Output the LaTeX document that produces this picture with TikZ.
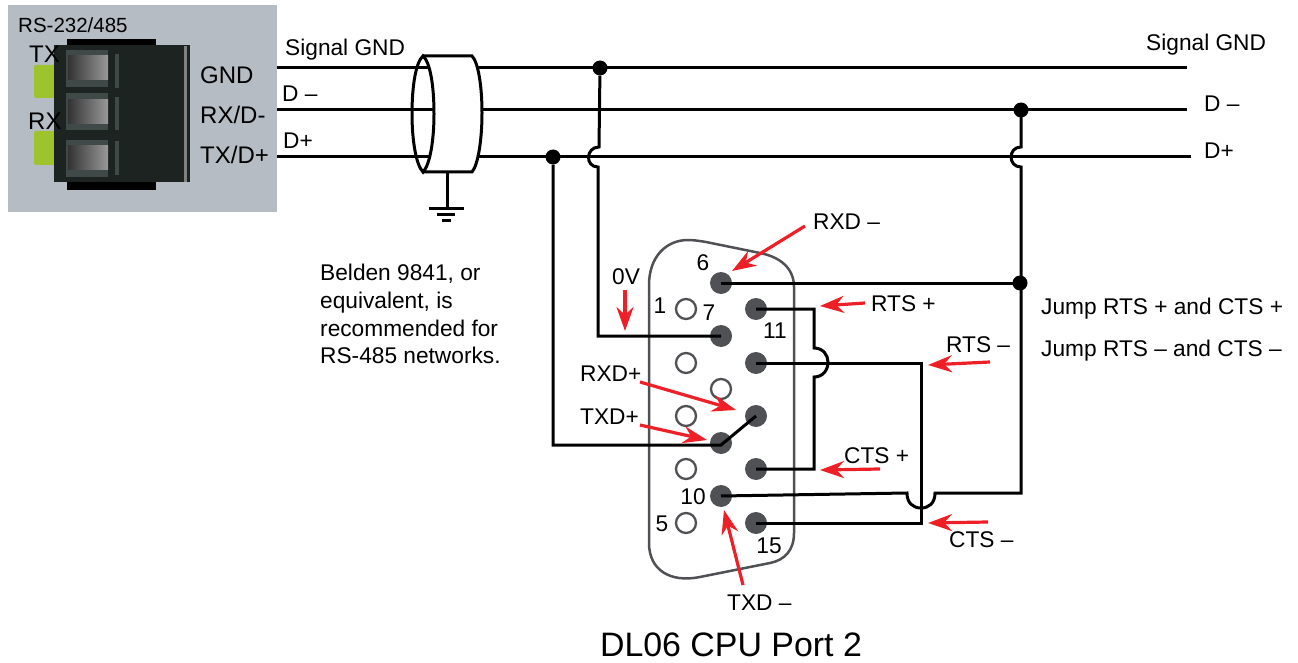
\documentclass[tikz,border=0pt]{standalone}
\usepackage{fontspec}
\setmainfont{Liberation Sans}
\usetikzlibrary{arrows.meta}
\definecolor{panelgray}{RGB}{182, 188, 195}
\definecolor{blockdark}{RGB}{29, 35, 33}
\definecolor{slotgray}{RGB}{63, 74, 72}
\definecolor{ledgreen}{RGB}{157, 195, 47}
\definecolor{pingray}{RGB}{80, 81, 84}
\definecolor{arrowred}{RGB}{238, 32, 39}

\begin{document}
\begin{tikzpicture}[
    x=1pt, y=-1pt,
    label/.style={inner sep=0pt, font=\fontsize{22.7}{27}\selectfont},
    big/.style={inner sep=0pt, font=\fontsize{24}{28}\selectfont},
    pin/.style={circle, inner sep=0pt, minimum size=22pt, fill=pingray},
    openpin/.style={circle, inner sep=0pt, minimum size=20pt, draw=pingray, line width=2.3pt, fill=white},
    dot/.style={circle, inner sep=0pt, minimum size=15pt, fill=black},
    wire/.style={line width=3pt, line join=miter},
    shell/.style={line width=2.5pt, draw=pingray},
    redarrow/.style={-{Stealth[length=24pt, width=17pt]}, line width=3.2pt, color=arrowred}
]
\useasboundingbox (0,0) rectangle (1298,663);

% Terminal block
\fill[panelgray] (8,5) rectangle (277,212);
\fill[ledgreen, rounded corners=2pt] (34,65) rectangle (56,98);
\fill[ledgreen, rounded corners=2pt] (34,131) rectangle (56,165);
\fill[black] (67,39) rectangle (156,190);
\fill[blockdark] (54,45) rectangle (190,182);
\fill[gray] (184,46) rectangle (187,182);
\fill[slotgray] (66,50) rectangle (108,87);
\fill[slotgray] (66,93) rectangle (108,130);
\fill[slotgray] (66,140) rectangle (108,177);
\shade[left color=black!80, right color=black!40] (68,56) rectangle (108,80);
\shade[left color=black!80, right color=black!40] (68,100) rectangle (108,124);
\shade[left color=black!80, right color=black!40] (68,146) rectangle (108,170);
\fill[slotgray] (115,54) rectangle (119,88);
\fill[slotgray] (115,97) rectangle (119,130);
\fill[slotgray] (115,141) rectangle (119,175);

% Terminal labels
\node[label, font=\fontsize{20.5}{24}\selectfont, anchor=west] (rslabel) at (18,25) {RS-232/485};
\node[big, anchor=west] (txled) at (29,54) {TX};
\node[big, anchor=west] (rxled) at (28,121) {RX};
\node[big, anchor=west] (gndterm) at (200,75) {GND};
\node[big, anchor=west] (rxterm) at (200,115) {RX/D-};
\node[big, anchor=west] (txterm) at (200,155) {TX/D+};

% Connector shell
\draw[shell] (649,543) -- (649,285) .. controls (649,257) and (666,240) .. (688,240)
    .. controls (694,240) and (700,241) .. (706,242) -- (760,253)
    .. controls (780,257) and (794,268) .. (794,287) -- (794,533)
    .. controls (794,550) and (785,560) .. (770,563) -- (700,577)
    .. controls (670,583) and (649,570) .. (649,543) -- cycle;

% Pins
\node[pin] (pin6) at (721,283) {};
\node[pin] (pin7) at (721,336) {};
\node[pin] (pin8) at (721,443) {};
\node[pin] (pin10) at (721,496) {};
\node[pin] (pin11) at (756,309) {};
\node[pin] (pin12) at (756,363) {};
\node[pin] (pin13) at (756,416) {};
\node[pin] (pin14) at (756,469) {};
\node[pin] (pin15) at (756,523) {};
\node[openpin] (pin1) at (686,309) {};
\node[openpin] (pin2) at (686,363) {};
\node[openpin] (pin3) at (686,416) {};
\node[openpin] (pin4) at (686,469) {};
\node[openpin] (pin5) at (686,523) {};
\node[openpin] (pin9) at (721,389) {};

% Pin numbers
\node[label] (num1) at (660,306) {1};
\node[label] (num5) at (662,524) {5};
\node[label] (num6) at (703,263) {6};
\node[label] (num7) at (709,313) {7};
\node[label] (num10) at (693,497) {10};
\node[label] (num11) at (775,331) {11};
\node[label] (num15) at (769,546) {15};

% Bus lines
\coordinate (gndstart) at (277,68);
\coordinate (gndend) at (1187,68);
\coordinate (dminusstart) at (277,110);
\coordinate (dminusend) at (1187,110);
\coordinate (dplusstart) at (277,157);
\coordinate (dplusend) at (1191,157);
\draw[wire] (gndstart) -- (gndend);
\draw[wire] (dminusstart) -- (dminusend);
\draw[wire] (dplusstart) -- (dplusend);

% Cable shield
\fill[white] (423,56) -- (472,56) .. controls (478,62) and (482,85) .. (482,113)
    .. controls (482,140) and (478,165) .. (472,172) -- (423,172)
    .. controls (430,165) and (434,140) .. (434,114) .. controls (434,85) and (430,62) .. (423,56) -- cycle;
\draw[wire] (423,56) -- (472,56) .. controls (478,62) and (482,85) .. (482,113)
    .. controls (482,140) and (478,165) .. (472,172) -- (423,172);
\draw[wire] (423,56) .. controls (430,62) and (434,85) .. (434,114) .. controls (434,140) and (430,165) .. (423,172)
    .. controls (416,165) and (412,140) .. (412,114) .. controls (412,85) and (416,62) .. (423,56) -- cycle;

% Ground symbol
\coordinate (shieldbase) at (447,172);
\coordinate (groundtop) at (447,209);
\draw[wire] (shieldbase) -- (groundtop);
\draw[wire] (429,209) -- (464,209);
\draw[wire] (437,215) -- (455,215);
\draw[wire] (442,221) -- (451,221);

% Junctions
\node[dot] (gnddot) at (600,68) {};
\node[dot] (dplusdot) at (553,157) {};
\node[dot] (dminusdot) at (1021,110) {};
\node[dot] (pin6dot) at (1020,283) {};

% Wiring to the port
\draw[wire] (gnddot) -- (599,147) to[out=180, in=180, looseness=1.7] (598,167) -- (598,336) -- (pin7.center);
\draw[wire] (dplusdot) -- (553,445) -- (721,445) -- (pin13.center);
\draw[wire] (dminusdot.center) -- (1021,147) to[out=180, in=180, looseness=1.7] (1021,167) -- (1021,283) -- (1021,493)
    -- (935,493) .. controls (935,503) and (929,508) .. (921,508) .. controls (913,508) and (907,503) .. (907,493) -- (pin10.center);
\draw[wire] (pin6.center) -- (pin6dot.center);
\draw[wire] (pin11.center) -- (814,309) -- (814,348) .. controls (823,348) and (828,355) .. (828,362)
    .. controls (828,370) and (823,377) .. (814,377) -- (814,469) -- (pin14.center);
\draw[wire] (pin12.center) -- (921,363) -- (921,523) -- (pin15.center);

% Bus labels
\node[label, anchor=west] (gndleft) at (285,50) {Signal GND};
\node[label, anchor=west] (gndright) at (1146,45) {Signal GND};
\node[label, anchor=west] (dminusleft) at (282,94) {D --};
\node[label, anchor=west] (dplusleft) at (283,141) {D+};
\node[label, anchor=west] (dminusright) at (1204,104) {D --};
\node[label, anchor=west] (dplusright) at (1204,151) {D+};

% Notes
\node[label, font=\fontsize{22.7}{27.7}\selectfont, anchor=north west, align=left] (cablenote) at (320,264) {Belden 9841, or\\equivalent, is\\recommended for\\RS-485 networks.};
\node[label, anchor=west] (jumpplus) at (1041,309) {Jump RTS + and CTS +};
\node[label, anchor=west] (jumpminus) at (1041,351) {Jump RTS -- and CTS --};
\node[inner sep=0pt, font=\fontsize{33.9}{40}\selectfont] (title) at (731,645) {DL06 CPU Port 2};

% Signal labels
\node[label, anchor=west] (rxdminus) at (813,222) {RXD --};
\node[label, anchor=west] (zerov) at (612,277) {0V};
\node[label, anchor=west] (rtsplus) at (871,304) {RTS +};
\node[label, anchor=west] (rtsminus) at (946,345) {RTS --};
\node[label, anchor=west] (rxdplus) at (580,374) {RXD+};
\node[label, anchor=west] (txdplus) at (580,417) {TXD+};
\node[label, anchor=west] (ctsplus) at (844,456) {CTS +};
\node[label, anchor=west] (ctsminus) at (949,540) {CTS --};
\node[label, anchor=west] (txdminus) at (727,603) {TXD --};

% Red pointers
\coordinate (rxdminustail) at (805,226);
\coordinate (rxdminustip) at (732,271);
\coordinate (zerovtail) at (625,290);
\coordinate (zerovtip) at (625,331);
\coordinate (rtsplustail) at (865,303);
\coordinate (rtsplustip) at (820,306);
\coordinate (rtsminustail) at (990,362);
\coordinate (rtsminustip) at (928,365);
\coordinate (rxdplustail) at (640,382);
\coordinate (rxdplustip) at (736,410);
\coordinate (txdplustail) at (640,425);
\coordinate (txdplustip) at (707,440);
\coordinate (ctsplustail) at (880,469);
\coordinate (ctsplustip) at (820,470);
\coordinate (ctsminustail) at (988,522);
\coordinate (ctsminustip) at (928,523);
\coordinate (txdminustail) at (743,585);
\coordinate (txdminustip) at (724,510);
\draw[redarrow] (rxdminustail) -- (rxdminustip);
\draw[redarrow] (zerovtail) -- (zerovtip);
\draw[redarrow] (rtsplustail) -- (rtsplustip);
\draw[redarrow] (rtsminustail) -- (rtsminustip);
\draw[redarrow] (rxdplustail) -- (rxdplustip);
\draw[redarrow] (txdplustail) -- (txdplustip);
\draw[redarrow] (ctsplustail) -- (ctsplustip);
\draw[redarrow] (ctsminustail) -- (ctsminustip);
\draw[redarrow] (txdminustail) -- (txdminustip);

\end{tikzpicture}
\end{document}
